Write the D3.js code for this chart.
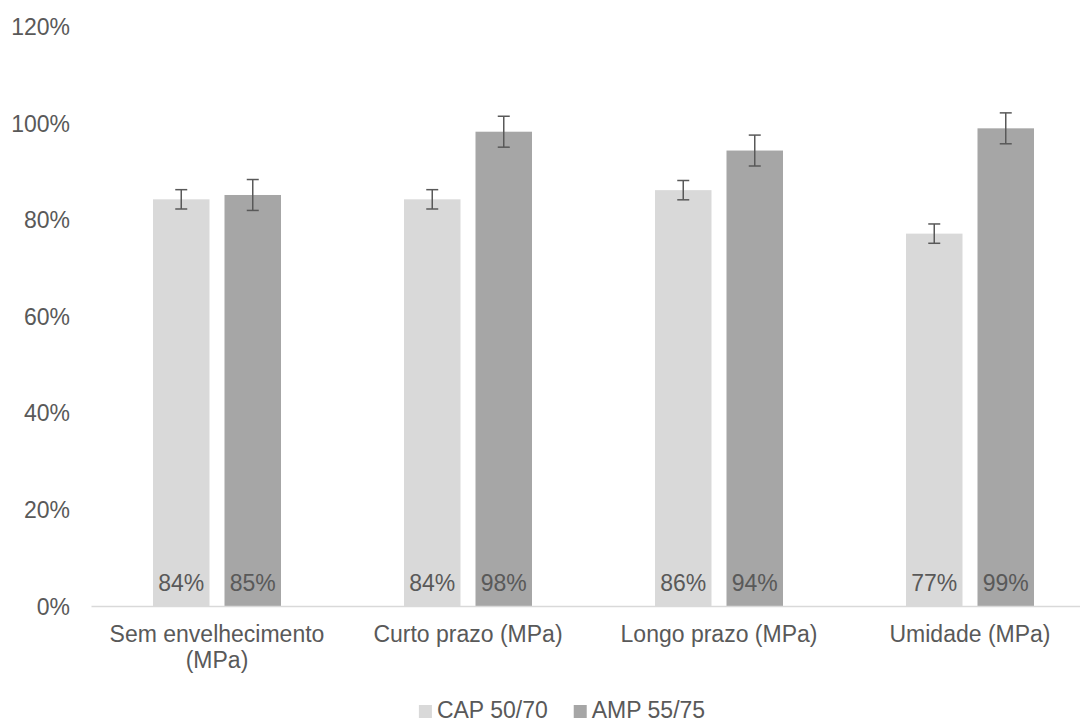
<!DOCTYPE html>
<html><head><meta charset="utf-8">
<script src="https://cdn.jsdelivr.net/npm/d3@7"></script>
<style>
body{margin:0;background:#fff;}
text{font-family:"Liberation Sans",Arial,sans-serif;fill:#595959;}
</style></head>
<body><svg id="c" width="1080" height="722"></svg>
<script>
const categories = [["Sem envelhecimento","(MPa)"],["Curto prazo (MPa)"],["Longo prazo (MPa)"],["Umidade (MPa)"]];
const seriesNames = ["CAP 50/70","AMP 55/75"];
const cap = [0.843, 0.843, 0.862, 0.772];
const amp = [0.852, 0.983, 0.944, 0.990];
const capErr = [0.020, 0.020, 0.020, 0.020];
const ampErr = [0.032, 0.032, 0.032, 0.032];
const yTicks = [0,0.2,0.4,0.6,0.8,1.0,1.2];
const colors = ["#d9d9d9","#a6a6a6"];

(function(){
const svg = d3.select("#c");
const FS = "23px";
const pLeft = 91.5, pRight = 1095.5, pTop = 26.9, pBottom = 606.5;
const x0 = d3.scaleBand().domain(d3.range(categories.length)).range([pLeft,pRight]).paddingInner(0).paddingOuter(0);
const y = d3.scaleLinear().domain([0,1.2]).range([pBottom,pTop]);
const barW = 56.5, gap = 15;

svg.append("g").selectAll("text").data(yTicks).join("text")
  .attr("x",70).attr("y",d=>y(d)).attr("dy","0.35em").attr("text-anchor","end")
  .style("font-size",FS).text(d3.format(".0%"));

const series = [cap, amp];
const errs = [capErr, ampErr];
series.forEach((vals,si)=>{
  const off = si===0 ? -(gap/2+barW) : gap/2;
  const g = svg.append("g");
  g.selectAll("rect").data(vals).join("rect")
    .attr("x",(d,i)=>x0(i)+x0.bandwidth()/2+off)
    .attr("width",barW)
    .attr("y",d=>y(d)).attr("height",d=>y(0)-y(d))
    .attr("fill",colors[si]);
  vals.forEach((v,i)=>{
    const cx = x0(i)+x0.bandwidth()/2+off+barW/2;
    const e = errs[si][i];
    g.append("line").attr("x1",cx).attr("x2",cx).attr("y1",y(v+e)).attr("y2",y(v-e))
      .attr("stroke","#595959").attr("stroke-width",1.5);
    [v+e,v-e].forEach(t=>g.append("line").attr("x1",cx-6).attr("x2",cx+6).attr("y1",y(t)).attr("y2",y(t))
      .attr("stroke","#595959").attr("stroke-width",1.5));
    g.append("text").attr("x",cx).attr("y",y(0)-16).attr("text-anchor","middle")
      .style("font-size",FS).text(d3.format(".0%")(v));
  });
});

svg.append("line").attr("x1",pLeft).attr("x2",pRight).attr("y1",pBottom).attr("y2",pBottom)
  .attr("stroke","#d9d9d9").attr("stroke-width",1.5);

categories.forEach((lines,i)=>{
  const t = svg.append("text").attr("text-anchor","middle").style("font-size",FS);
  lines.forEach((l,j)=>t.append("tspan").attr("x",x0(i)+x0.bandwidth()/2).attr("y",642+j*26).text(l));
});

const lg = svg.append("g");
const items = seriesNames.map((n,i)=>{
  const gi = lg.append("g");
  gi.append("rect").attr("width",13).attr("height",13).attr("y",705).attr("fill",colors[i]);
  const tt = gi.append("text").attr("x",18).attr("y",718).style("font-size",FS).text(n);
  return {gi, w: 18 + tt.node().getComputedTextLength()};
});
const spacing = 26;
const total = d3.sum(items,d=>d.w) + spacing*(items.length-1);
let lx = 562 - total/2;
items.forEach(it=>{ it.gi.attr("transform",`translate(${lx},0)`); lx += it.w + spacing; });
})();
</script></body></html>
